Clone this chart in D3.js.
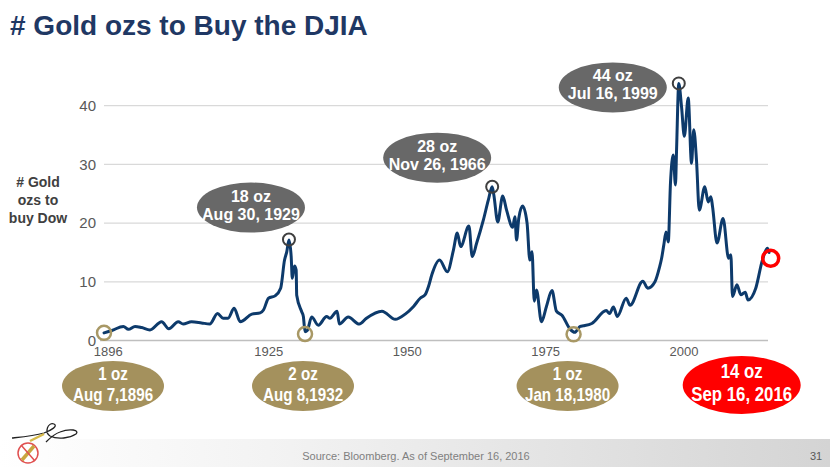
<!DOCTYPE html>
<html>
<head>
<meta charset="utf-8">
<script src="https://cdn.jsdelivr.net/npm/d3@7/dist/d3.min.js"></script>
<style>
  html, body { margin: 0; padding: 0; background: #ffffff; }
  svg { display: block; }
  text { font-family: "Liberation Sans", Arial, sans-serif; }
</style>
</head>
<body>
<svg id="chart" width="830" height="467"></svg>
<script>
// ---------- data ----------
const years = [1896.6, 1898.0, 1900.1, 1901.0, 1902.2, 1903.4, 1904.9, 1907.0, 1908.3, 1910.0,
  1910.9, 1912.4, 1914.2, 1915.7, 1917.1, 1918.1, 1919.0, 1920.1, 1921.2, 1923.3,
  1924.8, 1925.4, 1926.3, 1927.5, 1928.5, 1929.2, 1929.6, 1930.0, 1930.4, 1930.6,
  1931.0, 1931.3, 1931.4, 1932.3, 1932.6, 1932.9, 1933.3, 1934.1, 1935.3, 1936.8,
  1937.4, 1938.7, 1939.1, 1940.7, 1942.7, 1944.0, 1946.8, 1949.2, 1951.0, 1952.5,
  1953.7, 1954.6, 1955.2, 1955.8, 1957.2, 1958.6, 1959.7, 1960.4, 1961.0, 1962.5,
  1963.1, 1963.9, 1965.1, 1966.0, 1966.7, 1967.0, 1967.7, 1968.6, 1969.3, 1970.4,
  1970.8, 1971.1, 1971.5, 1972.2, 1973.0, 1973.5, 1973.9, 1974.3, 1974.7, 1975.6,
  1976.5, 1977.5, 1978.3, 1979.3, 1980.8, 1981.6, 1982.6, 1983.2, 1984.7, 1987.3,
  1987.9, 1988.6, 1989.3, 1990.9, 1991.6, 1993.9, 1994.8, 1996.1, 1996.9, 1997.3,
  1997.7, 1998.1, 1998.5, 1998.9, 1999.4, 1999.8, 2000.0, 2000.4, 2000.9, 2001.4,
  2002.1, 2002.7, 2003.1, 2003.6, 2004.1, 2005.1, 2005.7, 2006.2, 2006.5, 2007.3,
  2008.4, 2009.4, 2009.8, 2010.1, 2010.9, 2011.6, 2012.4, 2012.9, 2014.3, 2015.5,
  2016.4, 2016.7];
const goldOzs = [1.3, 1.7, 2.4, 1.9, 2.4, 2.2, 1.8, 3.2, 2.0, 3.2,
  2.8, 3.2, 3.0, 2.8, 4.6, 3.8, 3.8, 5.5, 3.2, 4.5,
  4.7, 5.2, 7.2, 7.6, 8.9, 13.7, 15.1, 17.1, 14.3, 10.6,
  12.7, 12.0, 7.7, 4.9, 4.1, 1.5, 1.7, 4.0, 2.6, 4.1,
  3.8, 5.0, 2.8, 4.0, 2.8, 3.8, 5.0, 3.6, 4.5, 5.8,
  7.2, 7.8, 9.2, 11.2, 13.7, 11.7, 15.4, 18.3, 16.0, 19.5,
  14.3, 16.6, 20.5, 23.9, 26.2, 24.8, 20.2, 24.6, 22.2, 19.3,
  21.1, 17.1, 20.8, 22.9, 20.0, 13.7, 15.1, 6.7, 8.6, 3.2,
  5.8, 8.5, 5.0, 4.3, 1.9, 1.4, 2.4, 2.5, 2.9, 5.1,
  4.6, 5.7, 4.1, 7.2, 6.0, 10.1, 8.9, 10.0, 12.4, 14.0,
  16.3, 18.5, 16.8, 26.8, 31.6, 26.5, 32.5, 43.8, 39.8, 34.8,
  41.3, 30.2, 35.9, 30.7, 22.2, 26.2, 23.6, 24.5, 22.8, 16.6,
  20.8, 14.0, 14.6, 7.5, 9.5, 7.8, 8.2, 6.9, 8.9, 13.7,
  15.7, 15.0];

const xTickYears = [1896, 1925, 1950, 1975, 2000];
const yTicks = [0, 10, 20, 30, 40];

// annotations (peaks & troughs)
const annoYears  = [1896.6, 1930.0, 1932.9, 1966.7, 1981.4, 2000.4, 2017.0];
const annoValues = [1.3, 17.2, 1.1, 26.2, 1.05, 43.8, 14.0];
const annoLine1  = ["1 oz", "18 oz", "2 oz", "28 oz", "1 oz", "44 oz", "14 oz"];
const annoLine2  = ["Aug 7,1896", "Aug 30, 1929", "Aug 8,1932", "Nov 26, 1966", "Jan 18,1980", "Jul 16, 1999", "Sep 16, 2016"];
const annoKind   = ["low", "high", "low", "high", "low", "high", "now"];

// ---------- layout / style ----------
const C = {
  line: "#0d3a6b", grid: "#d9d9d9", axis: "#bfbfbf", tick: "#595959",
  title: "#1f3864", tan: "#a4915d", tanRing: "#a89865", dark: "#686868",
  darkRing: "#3f3f3f", red: "#ff0000"
};
// label bubble offsets relative to the marked point (pixels)
const bubble = {
  high: [{dx: -38, dy: -32}, {dx: -55, dy: -29}, {dx: -66, dy: 4}],
  lowDx: [9, -2, -6], nowDx: -29, bottomY: 386
};

const svg = d3.select("#chart");

const x = d3.scaleLinear().domain([1896, 2017]).range([100.7, 770.7]);
const y = d3.scaleLinear().domain([0, 40]).range([340.5, 105.7]);
const plotL = 104, plotR = 768;

// footer band
const defs = svg.append("defs");
const grad = defs.append("linearGradient").attr("id", "foot").attr("x1", "0").attr("x2", "1").attr("y1", "0").attr("y2", "0");
grad.append("stop").attr("offset", "0%").attr("stop-color", "#ffffff");
grad.append("stop").attr("offset", "35%").attr("stop-color", "#f2f2f2");
grad.append("stop").attr("offset", "100%").attr("stop-color", "#d4d4d4");
svg.append("rect").attr("x", 0).attr("y", 439).attr("width", 830).attr("height", 28).attr("fill", "url(#foot)");

// title
svg.append("text").attr("x", 10).attr("y", 35)
  .attr("font-size", 28).attr("font-weight", "bold").attr("fill", C.title)
  .text("# Gold ozs to Buy the DJIA");

// gridlines
svg.append("g").selectAll("line").data(yTicks.filter(d => d > 0)).join("line")
  .attr("x1", plotL).attr("x2", plotR)
  .attr("y1", d => y(d)).attr("y2", d => y(d))
  .attr("stroke", C.grid).attr("stroke-width", 1.2);

// y axis labels
const yAxis = d3.axisLeft(y).tickValues(yTicks).tickSize(0).tickPadding(0);
const gy = svg.append("g").attr("transform", "translate(96,0)").call(yAxis);
gy.select(".domain").remove();
gy.selectAll("text").attr("font-size", 15).attr("fill", C.tick)
  .attr("font-family", "'Liberation Sans', Arial, sans-serif");

// x axis
const xAxis = d3.axisBottom(x).tickValues(xTickYears).tickFormat(d3.format("d")).tickSize(0).tickPadding(6);
const gx = svg.append("g").attr("transform", `translate(0,${y(0)})`).call(xAxis);
gx.select(".domain").remove();
gx.selectAll("text").attr("font-size", 13).attr("fill", C.tick).attr("dx", 7)
  .attr("font-family", "'Liberation Sans', Arial, sans-serif");
svg.append("line").attr("x1", 100).attr("x2", plotR).attr("y1", y(0)).attr("y2", y(0))
  .attr("stroke", C.axis).attr("stroke-width", 1.5);

// y-axis title
const yt = svg.append("text").attr("text-anchor", "middle").attr("font-size", 14)
  .attr("font-weight", "bold").attr("fill", "#404040");
["# Gold", "ozs to", "buy Dow"].forEach((s, i) => {
  yt.append("tspan").attr("x", 38).attr("y", 187 + i * 18).text(s);
});

// line
const series = years.map((yr, i) => ({year: yr, v: goldOzs[i]}));
svg.append("path").datum(series)
  .attr("fill", "none").attr("stroke", C.line).attr("stroke-width", 3)
  .attr("stroke-linejoin", "round").attr("stroke-linecap", "round")
  .attr("d", d3.line().x(d => x(d.year)).y(d => y(d.v)).curve(d3.curveMonotoneX));

// annotations
const annos = annoYears.map((yr, i) => ({year: yr, v: annoValues[i], l1: annoLine1[i], l2: annoLine2[i], kind: annoKind[i]}));
let hi = 0, lo = 0;
annos.forEach(a => {
  const px = x(a.year), py = y(a.v);
  let ex, ey, rx, ry, fill, fs, sx, b1, b2;
  if (a.kind === "high") {
    const o = bubble.high[hi++];
    ex = px + o.dx; ey = py + o.dy; rx = 54; ry = 25; fill = C.dark; fs = 16; sx = 1;
    b1 = ey - 6; b2 = ey + 12;
    svg.append("circle").attr("cx", px).attr("cy", py).attr("r", 6)
      .attr("fill", "none").attr("stroke", C.darkRing).attr("stroke-width", 2);
  } else if (a.kind === "low") {
    ex = px + bubble.lowDx[lo++]; ey = bubble.bottomY; rx = 51; ry = 25; fill = C.tan; fs = 19; sx = 0.8;
    b1 = ey - 6; b2 = ey + 15;
    svg.append("circle").attr("cx", px).attr("cy", py).attr("r", 7)
      .attr("fill", "none").attr("stroke", C.tanRing).attr("stroke-width", 2.5);
  } else {
    ex = px + bubble.nowDx; ey = bubble.bottomY - 1; rx = 59; ry = 29; fill = C.red; fs = 21; sx = 0.8;
    b1 = ey - 7; b2 = ey + 16;
    svg.append("circle").attr("cx", px).attr("cy", py).attr("r", 8)
      .attr("fill", "none").attr("stroke", C.red).attr("stroke-width", 3.5);
  }
  svg.append("ellipse").attr("cx", ex).attr("cy", ey).attr("rx", rx).attr("ry", ry).attr("fill", fill);
  [[a.l1, b1], [a.l2, b2]].forEach(([t, b]) => {
    svg.append("text").attr("transform", `translate(${ex},${b}) scale(${sx},1)`)
      .attr("text-anchor", "middle")
      .attr("font-size", fs).attr("font-weight", "bold").attr("fill", "#ffffff")
      .text(t);
  });
});

// logo (signature + emblem)
const logo = svg.append("g");
logo.append("path")
  .attr("d", "M12,438 C22,437 34,436 44,433 C52,430 58,426 54,424 C48,422 44,432 50,436 C58,440 70,438 76,434 C80,430 70,428 60,432 C54,434 50,438 46,442")
  .attr("fill", "none").attr("stroke", "#222").attr("stroke-width", 1.3);
logo.append("path").attr("d", "M30,441 L44,434").attr("stroke", "#d6b94a").attr("stroke-width", 2.5);
logo.append("circle").attr("cx", 28).attr("cy", 453).attr("r", 10)
  .attr("fill", "#fff").attr("stroke", "#e05050").attr("stroke-width", 1.5);
logo.append("path").attr("d", "M22,460 L34,446").attr("stroke", "#c9a640").attr("stroke-width", 3.5);
logo.append("path").attr("d", "M21,445 L35,461").attr("stroke", "#e05050").attr("stroke-width", 1.5);

// footer text
svg.append("text").attr("x", 416).attr("y", 460).attr("text-anchor", "middle")
  .attr("font-size", 11).attr("fill", "#7f7f7f")
  .text("Source: Bloomberg. As of September 16, 2016");
svg.append("text").attr("x", 816).attr("y", 460).attr("text-anchor", "middle")
  .attr("font-size", 11).attr("fill", "#595959").text("31");
</script>
</body>
</html>
